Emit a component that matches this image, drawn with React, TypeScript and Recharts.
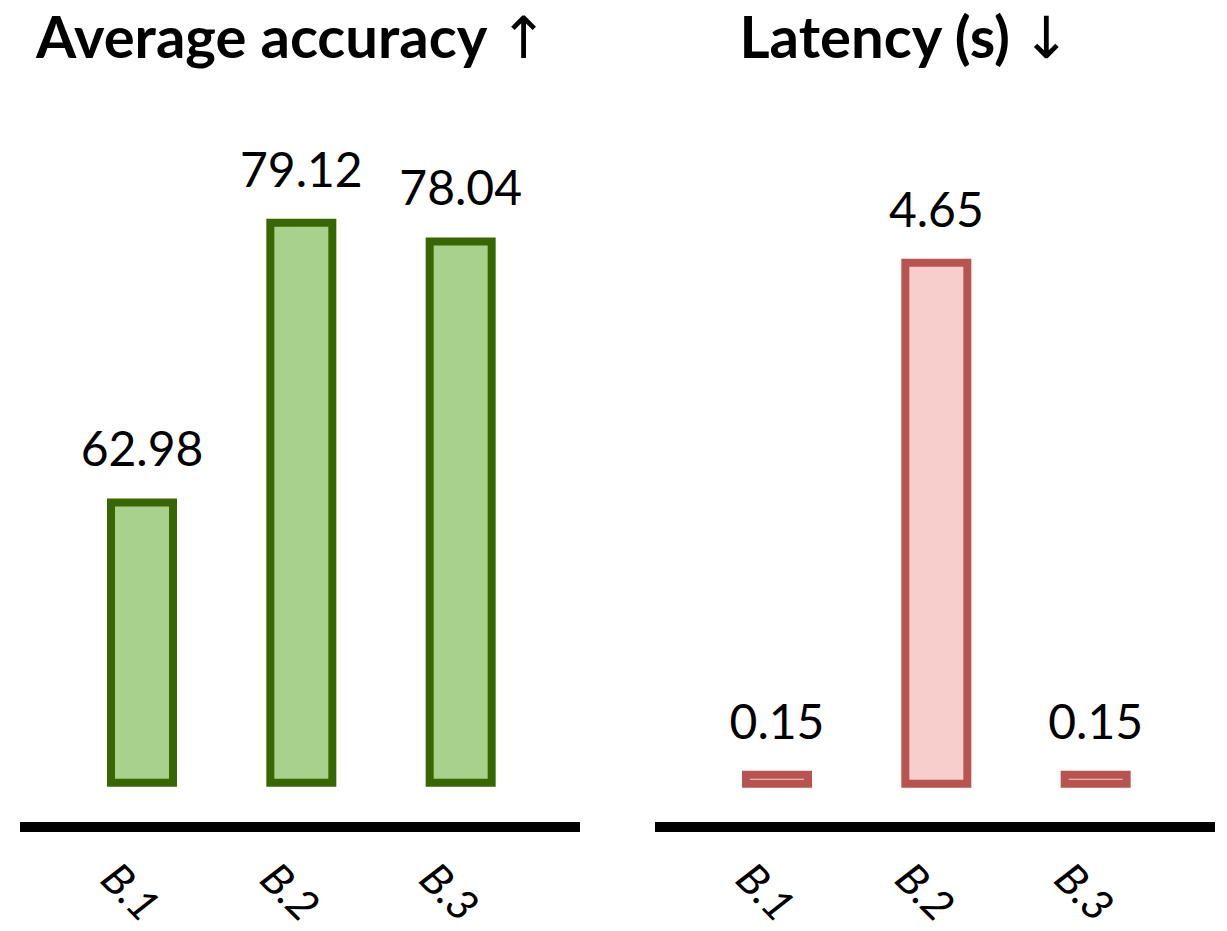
import { Bar, BarChart, LabelList, XAxis, YAxis } from "recharts"

const configs = ["B.1", "B.2", "B.3"]
const accuracy = [62.98, 79.12, 78.04]
const latency = [0.15, 4.65, 0.15]

// bars float above the axis line, so each bar starts at a floor value
const accFloor = 46.8
const latFloor = 0.07

const accData = configs.map((name, i) => ({ name, value: accuracy[i], range: [accFloor, accuracy[i]] }))
const latData = configs.map((name, i) => ({ name, value: latency[i], range: [latFloor, latency[i]] }))

const FONT = "Lato, 'Open Sans', sans-serif"

function Tick(props: any) {
  const { x, y, payload } = props
  return (
    <g transform={`translate(${x - 14},${y + 60})`}>
      <text
        transform="rotate(45)"
        textAnchor="middle"
        dominantBaseline="middle"
        fontFamily={FONT}
        fontStyle="italic"
        fontSize={43}
        fill="#000"
      >
        {payload.value}
      </text>
    </g>
  )
}

function Panel({
  data,
  domain,
  fill,
  stroke,
}: {
  data: any[]
  domain: [number, number]
  fill: string
  stroke: string
}) {
  return (
    <BarChart width={600} height={931} data={data} margin={{ top: 100, right: 20, bottom: 0, left: 20 }}>
      <XAxis
        dataKey="name"
        height={104}
        padding={{ left: 42, right: 40 }}
        axisLine={{ stroke: "#000", strokeWidth: 10 }}
        tickLine={false}
        tick={<Tick />}
        interval={0}
      />
      <YAxis hide domain={domain} allowDataOverflow />
      <Bar dataKey="range" fill={fill} stroke={stroke} strokeWidth={8} barSize={62} isAnimationActive={false}>
        <LabelList
          dataKey="value"
          position="top"
          offset={36}
          fill="#000"
          fontSize={48}
          fontFamily={FONT}
        />
      </Bar>
    </BarChart>
  )
}

export default function App() {
  const titleStyle: React.CSSProperties = {
    position: "absolute",
    top: 0,
    fontFamily: FONT,
    fontWeight: 700,
    fontSize: 58,
    lineHeight: "71px",
    textAlign: "center",
    whiteSpace: "nowrap",
  }
  const arrow: React.CSSProperties = { fontWeight: 400, fontFamily: "'DejaVu Sans', sans-serif", marginLeft: 12 }
  return (
    <div style={{ position: "absolute", left: 0, top: 0, width: 1227, height: 931, background: "#fff", overflow: "hidden" }}>
      <div style={{ position: "absolute", left: 0, top: 0 }}>
        <Panel data={accData} domain={[44.25, 86.2]} fill="#a9d18e" stroke="#386600" />
      </div>
      <div style={{ position: "absolute", left: 635, top: 0 }}>
        <Panel data={latData} domain={[-0.31, 6.08]} fill="#f8cecc" stroke="#b85450" />
      </div>
      <div style={{ ...titleStyle, left: 0, width: 584 }}>
        Average accuracy<span style={arrow}>↑</span>
      </div>
      <div style={{ ...titleStyle, left: 705, width: 400 }}>
        Latency (s)<span style={arrow}>↓</span>
      </div>
    </div>
  )
}
